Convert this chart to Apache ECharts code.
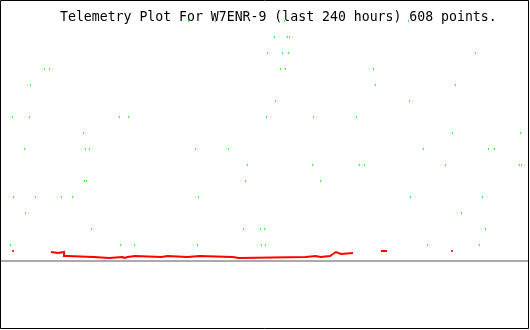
<!DOCTYPE html>
<html>
<head>
<meta charset="utf-8">
<script src="https://cdn.jsdelivr.net/npm/echarts@6/dist/echarts.min.js"></script>
<style>html,body{margin:0;padding:0;background:#fff}#c{width:530px;height:330px}</style>
</head>
<body>
<div id="c"></div>
<script>
// Title
var titleText = 'Telemetry Plot For W7ENR-9 (last 240 hours) 608 points.';

// Green telemetry readings: [hour, value]
var greenPoints = [
  [85.68,15],[97.95,15],[129.32,15],[185.68,15],
  [124.77,14],[130.68,14],[131.59,14],
  [121.59,13],[128.41,13],[131.14,13],[216.14,13],
  [20.23,12],[22.5,12],[127.5,12],[129.77,12],[169.77,12],
  [13.86,11],[170.68,11],[207.05,11],
  [125.23,10],[186.14,10],
  [5.68,9],[13.41,9],[54.32,9],[58.41,9],[121.14,9],[142.5,9],[162.05,9],
  [37.95,8],[205.68,8],[236.59,8],
  [11.14,7],[38.86,7],[40.68,7],[88.86,7],[103.86,7],[192.5,7],[222.05,7],[224.77,7],
  [112.5,6],[142.05,6],[163.41,6],[165.68,6],[202.5,6],[236.14,6],[237.05,6],
  [38.41,5],[39.32,5],[111.59,5],[145.68,5],
  [6.14,4],[16.14,4],[27.95,4],[32.95,4],[90.23,4],[186.59,4],[219.32,4],
  [11.59,3],[209.77,3],
  [41.59,2],[110.68,2],[118.41,2],[120.23,2],[220.68,2],
  [4.77,1],[54.77,1],[61.14,1],[89.77,1],[118.86,1],[120.68,1],[194.32,1],[217.95,1]
];

// Red telemetry trace: [hour, value], null = gap
var redLine = [
  [23.18,0.5625],[23.64,0.5],[26.36,0.4375],[27.05,0.5625],
  [29.09,0.3125],[30.45,0.25],[42.5,0.1875],
  [49.64,0.25],[55.68,0.1875],[56.59,0.25],
  [57.95,0.3125],[61.36,0.25],[73.41,0.3125],
  [76.14,0.25],[85.23,0.3125],[90.68,0.25],
  [105.68,0.1875],[108.64,0.25],[138.86,0.3125],
  [143.41,0.25],[145.68,0.3125],[150,0.4375],[151.36,0.5625],
  [152.73,0.4375],[155,0.5],[160.45,0.5],
  null,
  [173.18,0.625],[175.91,0.625],
  null
];
// Isolated red readings
var redPoints = [[5.91,0.625],[205.45,0.625]];

var chart = echarts.init(document.getElementById('c'), null, {renderer:'canvas'});
chart.setOption({
  animation: false,
  backgroundColor: '#fff',
  title: {
    text: titleText, left: 60, top: 11, padding: 0, z: 1,
    textStyle: {fontFamily: 'DejaVu Sans Mono', fontSize: 13.2, fontWeight: 'normal', color: '#000'}
  },
  grid: {left: 0, top: 5, width: 528, height: 256},
  xAxis: {
    type: 'value', min: 0, max: 240,
    axisLine: {show: true, lineStyle: {color: '#aaaaaa', width: 2}},
    axisTick: {show: false}, axisLabel: {show: false}, splitLine: {show: false}
  },
  yAxis: {
    type: 'value', min: 0, max: 16,
    axisLine: {show: false}, axisTick: {show: false}, axisLabel: {show: false}, splitLine: {show: false}
  },
  graphic: [{
    type: 'rect', z: 100, silent: true,
    shape: {x: 0.5, y: 0.5, width: 528, height: 328},
    style: {fill: null, stroke: '#000', lineWidth: 1}
  }],
  series: [
    {
      type: 'line', data: redLine, step: 'end', showSymbol: false, connectNulls: false, z: 3,
      lineStyle: {color: '#ff0000', width: 2, join: 'miter', cap: 'butt'}, silent: true
    },
    {
      type: 'scatter', data: redPoints, symbol: 'rect', symbolSize: [2,2], z: 3,
      itemStyle: {color: '#ff0000'}, silent: true
    },
    {
      type: 'scatter', data: greenPoints, symbol: 'rect', symbolSize: [1,2], z: 4,
      itemStyle: {color: '#00ee00'}, silent: true
    }
  ]
});
</script>
</body>
</html>
